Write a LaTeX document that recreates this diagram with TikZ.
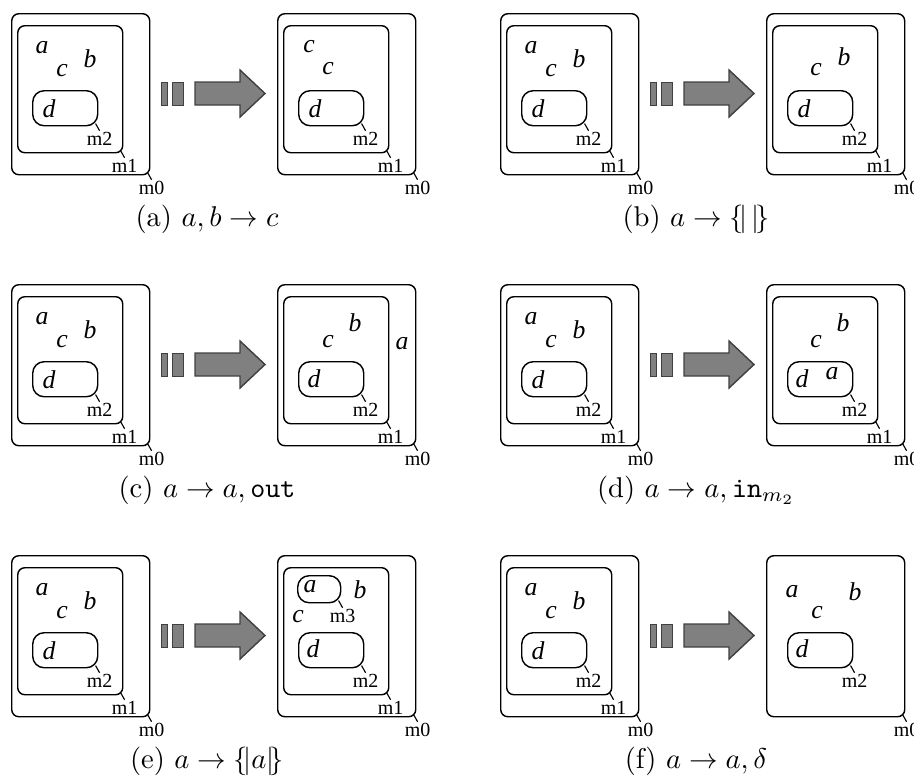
\documentclass[tikz,border=0pt]{standalone}
\usepackage{fontspec}
\newfontfamily\tms{Liberation Serif}
\usetikzlibrary{calc}

\tikzset{
  mem/.style={draw, rounded corners=2.5pt, anchor=north west, inner sep=0pt, line width=0.5pt},
  tag/.style={inner sep=0.3pt, font=\fontsize{7}{8}\selectfont\tms},
  obj/.style={inner sep=0pt, font=\fontsize{9}{10}\selectfont\tms\itshape},
  bar/.style={draw=black!75, fill=black!50, line width=0.5pt, anchor=north west, inner sep=0pt},
  bigarrow/.style={draw=black!75, fill=black!50, line width=0.5pt, line join=miter},
}

% membrane, its name hanging off the lower right corner
\newcommand\skin[6][]{%
  \node[mem, #1, minimum width=#4*0.35pt, minimum height=#5*0.35pt] (#2) at (#3) {};
  \node[tag, anchor=north, xshift=0.4pt, yshift=-1.5pt] (#2t) at (#2.south east) {#6};
  \draw[line width=0.4pt] ([xshift=-1pt, yshift=1pt]#2.south east) -- (#2t.north);}

% m0 > m1 > m2
\newcommand\nest[1]{%
  \skin{#1o}{#1}{138}{161}{m0}
  \skin{#1i}{$(#1)+(6,12)$}{105}{127}{m1}
  \skin[rounded corners=4pt]{#1m}{$(#1)+(21,77)$}{65}{35}{m2}}

% the starting configuration
\newcommand\start[1]{%
  \nest{#1}
  \node[obj] (#1a) at ($(#1)+(31,35)$) {a};
  \node[obj] (#1c) at ($(#1)+(51,58)$) {c};
  \node[obj] (#1b) at ($(#1)+(79,46)$) {b};
  \node[obj] (#1d) at ($(#1)+(38,96)$) {d};}

\newcommand\rulearrow[1]{%
  \node[bar, minimum width=6*0.35pt, minimum height=23*0.35pt] (#1p) at ($(#1)+(150,69)$) {};
  \node[bar, minimum width=11*0.35pt, minimum height=23*0.35pt] (#1q) at ($(#1)+(161,69)$) {};
  \draw[bigarrow] ($(#1)+(184,69)$) -- ++(45,0) -- ++(0,-12) -- ++(25,23.5)
    -- ++(-25,23.5) -- ++(0,-12) -- ++(-45,0) -- cycle;}

\begin{document}
\begin{tikzpicture}[x=0.35pt, y=-0.35pt]
\useasboundingbox (0,0) rectangle (914,778);

% (a)
\coordinate (A) at (11,13);
\coordinate (AR) at (277,13);
\start{A}
\rulearrow{A}
\nest{AR}
\node[obj] (ARc) at ($(AR)+(32,34)$) {c};
\node[obj] (ARcc) at ($(AR)+(51,56)$) {c};
\node[obj] (ARd) at ($(AR)+(38,96)$) {d};
\node (capa) at ($(A)+(196,206)$) {(a) $a, b \rightarrow c$};

% (b)
\coordinate (B) at (500,13);
\coordinate (BR) at (766,13);
\start{B}
\rulearrow{B}
\nest{BR}
\node[obj] (BRc) at ($(BR)+(50,57)$) {c};
\node[obj] (BRb) at ($(BR)+(78,44)$) {b};
\node[obj] (BRd) at ($(BR)+(38,96)$) {d};
\node (capb) at ($(B)+(196,206)$) {(b) $a \rightarrow \{\!|\,|\!\}$};

% (c)
\coordinate (C) at (11,284);
\coordinate (CR) at (277,284);
\start{C}
\rulearrow{C}
\nest{CR}
\node[obj] (CRc) at ($(CR)+(51,58)$) {c};
\node[obj] (CRb) at ($(CR)+(78,39)$) {b};
\node[obj] (CRa) at ($(CR)+(125,60)$) {a};
\node[obj] (CRd) at ($(CR)+(37,95)$) {d};
\node (capc) at ($(C)+(196,206)$) {(c) $a \rightarrow a, \mathtt{out}$};

% (d)
\coordinate (D) at (500,284);
\coordinate (DR) at (766,284);
\start{D}
\rulearrow{D}
\nest{DR}
\node[obj] (DRc) at ($(DR)+(50,58)$) {c};
\node[obj] (DRb) at ($(DR)+(77,39)$) {b};
\node[obj] (DRd) at ($(DR)+(36,95)$) {d};
\node[obj] (DRa) at ($(DR)+(66,90)$) {a};
\node (capd) at ($(D)+(196,206)$) {(d) $a \rightarrow a, \mathtt{in}_{m_2}$};

% (e)
\coordinate (E) at (11,555);
\coordinate (ER) at (277,555);
\start{E}
\rulearrow{E}
\nest{ER}
\skin[rounded corners=4pt]{ERn}{$(ER)+(20,20)$}{43}{27}{m3}
\node[obj] (ERa) at ($(ER)+(33,32)$) {a};
\node[obj] (ERb) at ($(ER)+(83,35)$) {b};
\node[obj] (ERc) at ($(ER)+(21,62)$) {c};
\node[obj] (ERd) at ($(ER)+(36,94)$) {d};
\node (cape) at ($(E)+(196,206)$) {(e) $a \rightarrow \{\!|a|\!\}$};

% (f)
\coordinate (F) at (500,555);
\coordinate (FR) at (766,555);
\start{F}
\rulearrow{F}
\skin{FRo}{FR}{138}{161}{m0}
\skin[rounded corners=4pt]{FRm}{$(FR)+(21,77)$}{65}{35}{m2}
\node[obj] (FRa) at ($(FR)+(26,37)$) {a};
\node[obj] (FRb) at ($(FR)+(89,37)$) {b};
\node[obj] (FRc) at ($(FR)+(51,58)$) {c};
\node[obj] (FRd) at ($(FR)+(36,94)$) {d};
\node (capf) at ($(F)+(196,206)$) {(f) $a \rightarrow a, \delta$};
\end{tikzpicture}
\end{document}
